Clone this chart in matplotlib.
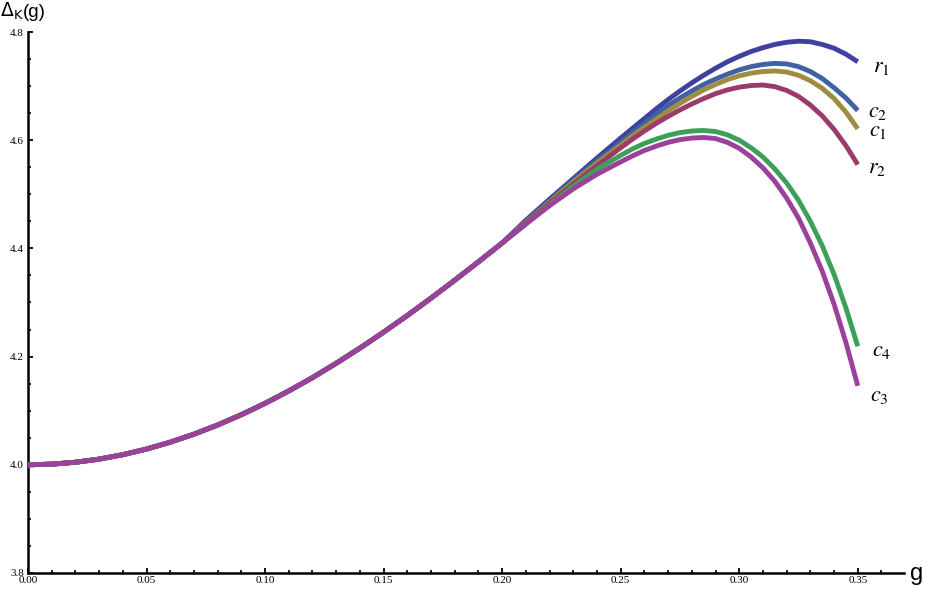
import matplotlib
matplotlib.use("Agg")
import matplotlib.pyplot as plt
from matplotlib.ticker import MultipleLocator, FormatStrFormatter

# ---- data ----
g_common = [0.00, 0.01, 0.02, 0.03, 0.04, 0.05, 0.06, 0.07, 0.08, 0.09, 0.10,
            0.11, 0.12, 0.13, 0.14, 0.15, 0.16, 0.17, 0.18, 0.19, 0.20]
d_common = [4.0000, 4.0012, 4.0047, 4.0105, 4.0187, 4.0291, 4.0418, 4.0566, 4.0736,
            4.0926, 4.1136, 4.1365, 4.1612, 4.1877, 4.2157, 4.2452, 4.2760, 4.3081,
            4.3412, 4.3752, 4.4100]

g_tail = [0.21, 0.22, 0.23, 0.24, 0.25, 0.255, 0.26, 0.265, 0.27, 0.275, 0.28,
          0.285, 0.29, 0.295, 0.30, 0.305, 0.31, 0.315, 0.32, 0.325, 0.33, 0.335,
          0.34, 0.345, 0.35]

r1_tail = [4.452, 4.491, 4.529, 4.567, 4.604, 4.622, 4.640, 4.658, 4.675, 4.691, 4.706,
           4.720, 4.733, 4.745, 4.755, 4.764, 4.771, 4.777, 4.781, 4.783, 4.782, 4.777,
           4.770, 4.759, 4.745]
c2_tail = [4.450, 4.488, 4.526, 4.562, 4.596, 4.614, 4.631, 4.648, 4.664, 4.678, 4.691,
           4.703, 4.713, 4.722, 4.730, 4.736, 4.740, 4.742, 4.741, 4.736, 4.727, 4.714,
           4.697, 4.678, 4.655]
c1_tail = [4.448, 4.486, 4.523, 4.558, 4.591, 4.608, 4.624, 4.639, 4.654, 4.668, 4.681,
           4.693, 4.703, 4.712, 4.719, 4.724, 4.727, 4.728, 4.726, 4.720, 4.710, 4.696,
           4.677, 4.652, 4.621]
r2_tail = [4.447, 4.484, 4.519, 4.553, 4.586, 4.602, 4.617, 4.631, 4.644, 4.656, 4.667,
           4.677, 4.686, 4.693, 4.698, 4.701, 4.702, 4.699, 4.692, 4.681, 4.665, 4.645,
           4.620, 4.590, 4.555]
c4_tail = [4.445, 4.481, 4.515, 4.546, 4.572, 4.584, 4.594, 4.602, 4.609, 4.614, 4.617,
           4.618, 4.616, 4.610, 4.600, 4.586, 4.569, 4.547, 4.521, 4.489, 4.450, 4.405,
           4.352, 4.290, 4.219]
c3_tail = [4.445, 4.479, 4.510, 4.537, 4.560, 4.571, 4.581, 4.589, 4.596, 4.601, 4.604,
           4.605, 4.603, 4.596, 4.585, 4.569, 4.549, 4.524, 4.493, 4.456, 4.410, 4.358,
           4.297, 4.226, 4.146]

series_names = ["r1", "c2", "c1", "r2", "c4", "c3"]
series_tails = [r1_tail, c2_tail, c1_tail, r2_tail, c4_tail, c3_tail]
series_labels = ["$r_1$", "$c_2$", "$c_1$", "$r_2$", "$c_4$", "$c_3$"]
series_colors = ["#4040A0", "#3F62A3", "#9E8C40", "#9B3B6B", "#3DA05A", "#9B409B"]
# label offsets from curve end (pixels: right, down)
label_offsets = [(15, 10.5), (10, 7), (11, 7), (10, 8), (14, 10), (12, 15)]

x_ticks = [0.00, 0.05, 0.10, 0.15, 0.20, 0.25, 0.30, 0.35]
y_ticks = [3.8, 4.0, 4.2, 4.4, 4.6, 4.8]

# ---- figure ----
W, H = 929, 593
fig = plt.figure(figsize=(W / 100, H / 100), dpi=100)
ax = fig.add_axes([28 / W, 20 / H, 876 / W, 541 / H])
ax.set_xlim(0, 0.3695)
ax.set_ylim(3.8, 4.8)

for name, tail, col in zip(series_names, series_tails, series_colors):
    gx = g_common + g_tail
    yv = d_common + tail
    ax.plot(gx, yv, color=col, lw=3.5, solid_capstyle="butt",
            solid_joinstyle="round", clip_on=False, zorder=3)

px = 0.72  # points per pixel
for tail, lab, (dx, dy) in zip(series_tails, series_labels, label_offsets):
    ax.annotate(lab, xy=(g_tail[-1], tail[-1]), xytext=(dx * px, -dy * px),
                textcoords="offset points", ha="left", va="baseline",
                fontsize=16, math_fontfamily="stix", annotation_clip=False)

for s in ["top", "right"]:
    ax.spines[s].set_visible(False)
for s in ["left", "bottom"]:
    ax.spines[s].set_linewidth(1.8)
    ax.spines[s].set_color("black")

ax.set_xticks(x_ticks)
ax.set_yticks(y_ticks)
ax.xaxis.set_minor_locator(MultipleLocator(0.01))
ax.yaxis.set_minor_locator(MultipleLocator(0.05))
ax.xaxis.set_major_formatter(FormatStrFormatter("%.2f"))
ax.yaxis.set_major_formatter(FormatStrFormatter("%.1f"))
ax.tick_params(which="major", direction="in", length=3.5, width=1.3, pad=2.5,
               labelsize=8, colors="black")
ax.tick_params(which="minor", direction="in", length=2.0, width=1.2)
ax.tick_params(axis="y", which="major", pad=3)
for lbl in ax.get_xticklabels() + ax.get_yticklabels():
    lbl.set_fontfamily("Liberation Serif")

# axis labels
fig.text(0 / W, 1 - 17 / H, r"$\Delta_{\mathrm{K}}$", fontsize=13.5,
         family="Liberation Sans", math_fontfamily="dejavusans", va="baseline", ha="left")
fig.text(23 / W, 1 - 17 / H, "(g)", fontsize=13.5, family="Liberation Sans",
         va="baseline", ha="left")
fig.text(910 / W, 1 - 580 / H, "g", fontsize=17, family="Liberation Sans",
         va="baseline", ha="left")

fig.savefig("out.png", dpi=100)
